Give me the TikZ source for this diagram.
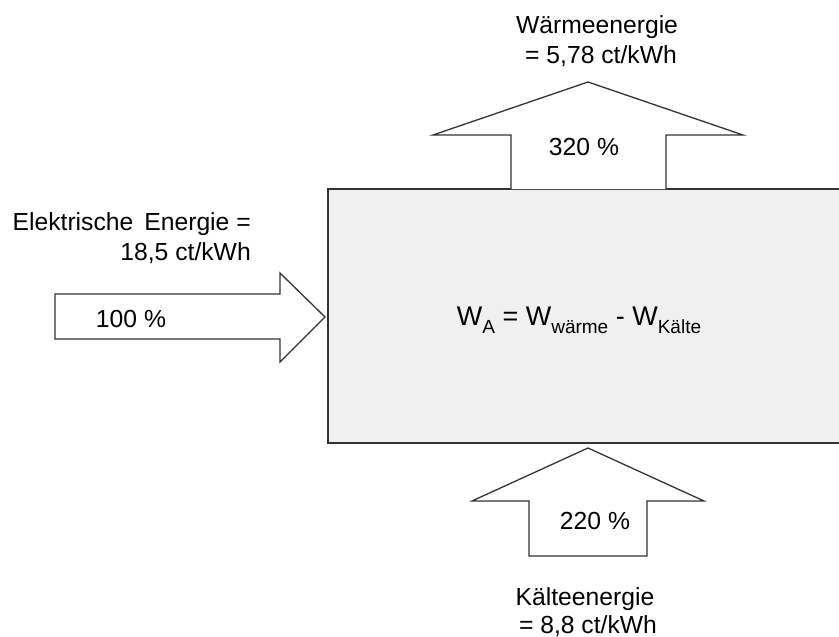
\documentclass[tikz,border=0pt]{standalone}
\usepackage{fontspec}
\setmainfont{Liberation Sans}
\definecolor{boxgray}{HTML}{F0F0F0}
\definecolor{linegray}{HTML}{333333}
\newcommand{\subtxt}[1]{\raisebox{-0.3em}{\fontsize{19}{19}\selectfont #1}}
\begin{document}
\begin{tikzpicture}[x=1pt,y=-1pt,
  arrowshape/.style={draw=linegray,line width=1.3pt,fill=white,line join=miter},
  lbl/.style={font=\fontsize{24.7}{30}\selectfont,inner sep=0pt,text=black,anchor=base}]
\useasboundingbox (0,0) rectangle (839,637);
% main box
\fill[boxgray] (328,189) rectangle (845,443);
\draw[linegray,line width=1.6pt] (845,189) -- (328,189) -- (328,443) -- (845,443);
\node[lbl,font=\fontsize{27}{30}\selectfont] (formel) at (579,325)
  {W\subtxt{A} = W\subtxt{wärme} - W\subtxt{Kälte}};
% top arrow (heat out)
\draw[arrowshape] (511,189) -- (511,135) -- (433,135) -- (588,82) -- (743,135) -- (666,135) -- (666,189);
\node[lbl] (p320) at (584,155) {320 \%};
\node[lbl] (waerme) at (597,33) {Wärmeenergie};
\node[lbl] (waermepreis) at (601,63) {= 5,78 ct/kWh};
% left arrow (electric in)
\draw[arrowshape] (55,294) -- (280,294) -- (280,273) -- (325,317) -- (280,362) -- (280,339) -- (55,339) -- cycle;
\node[lbl] (p100) at (131,327) {100 \%};
\node[lbl,anchor=base east] (elek) at (251,230) {Elektrische\, Energie =};
\node[lbl,anchor=base east] (elekpreis) at (251,260) {18,5 ct/kWh};
% bottom arrow (cold in)
\draw[arrowshape] (529,556) -- (529,501) -- (472,501) -- (588,448) -- (704,501) -- (647,501) -- (647,556) -- cycle;
\node[lbl] (p220) at (595,529) {220 \%};
\node[lbl] (kaelte) at (585,605) {Kälteenergie};
\node[lbl] (kaeltepreis) at (588,633) {= 8,8 ct/kWh};
\end{tikzpicture}
\end{document}
